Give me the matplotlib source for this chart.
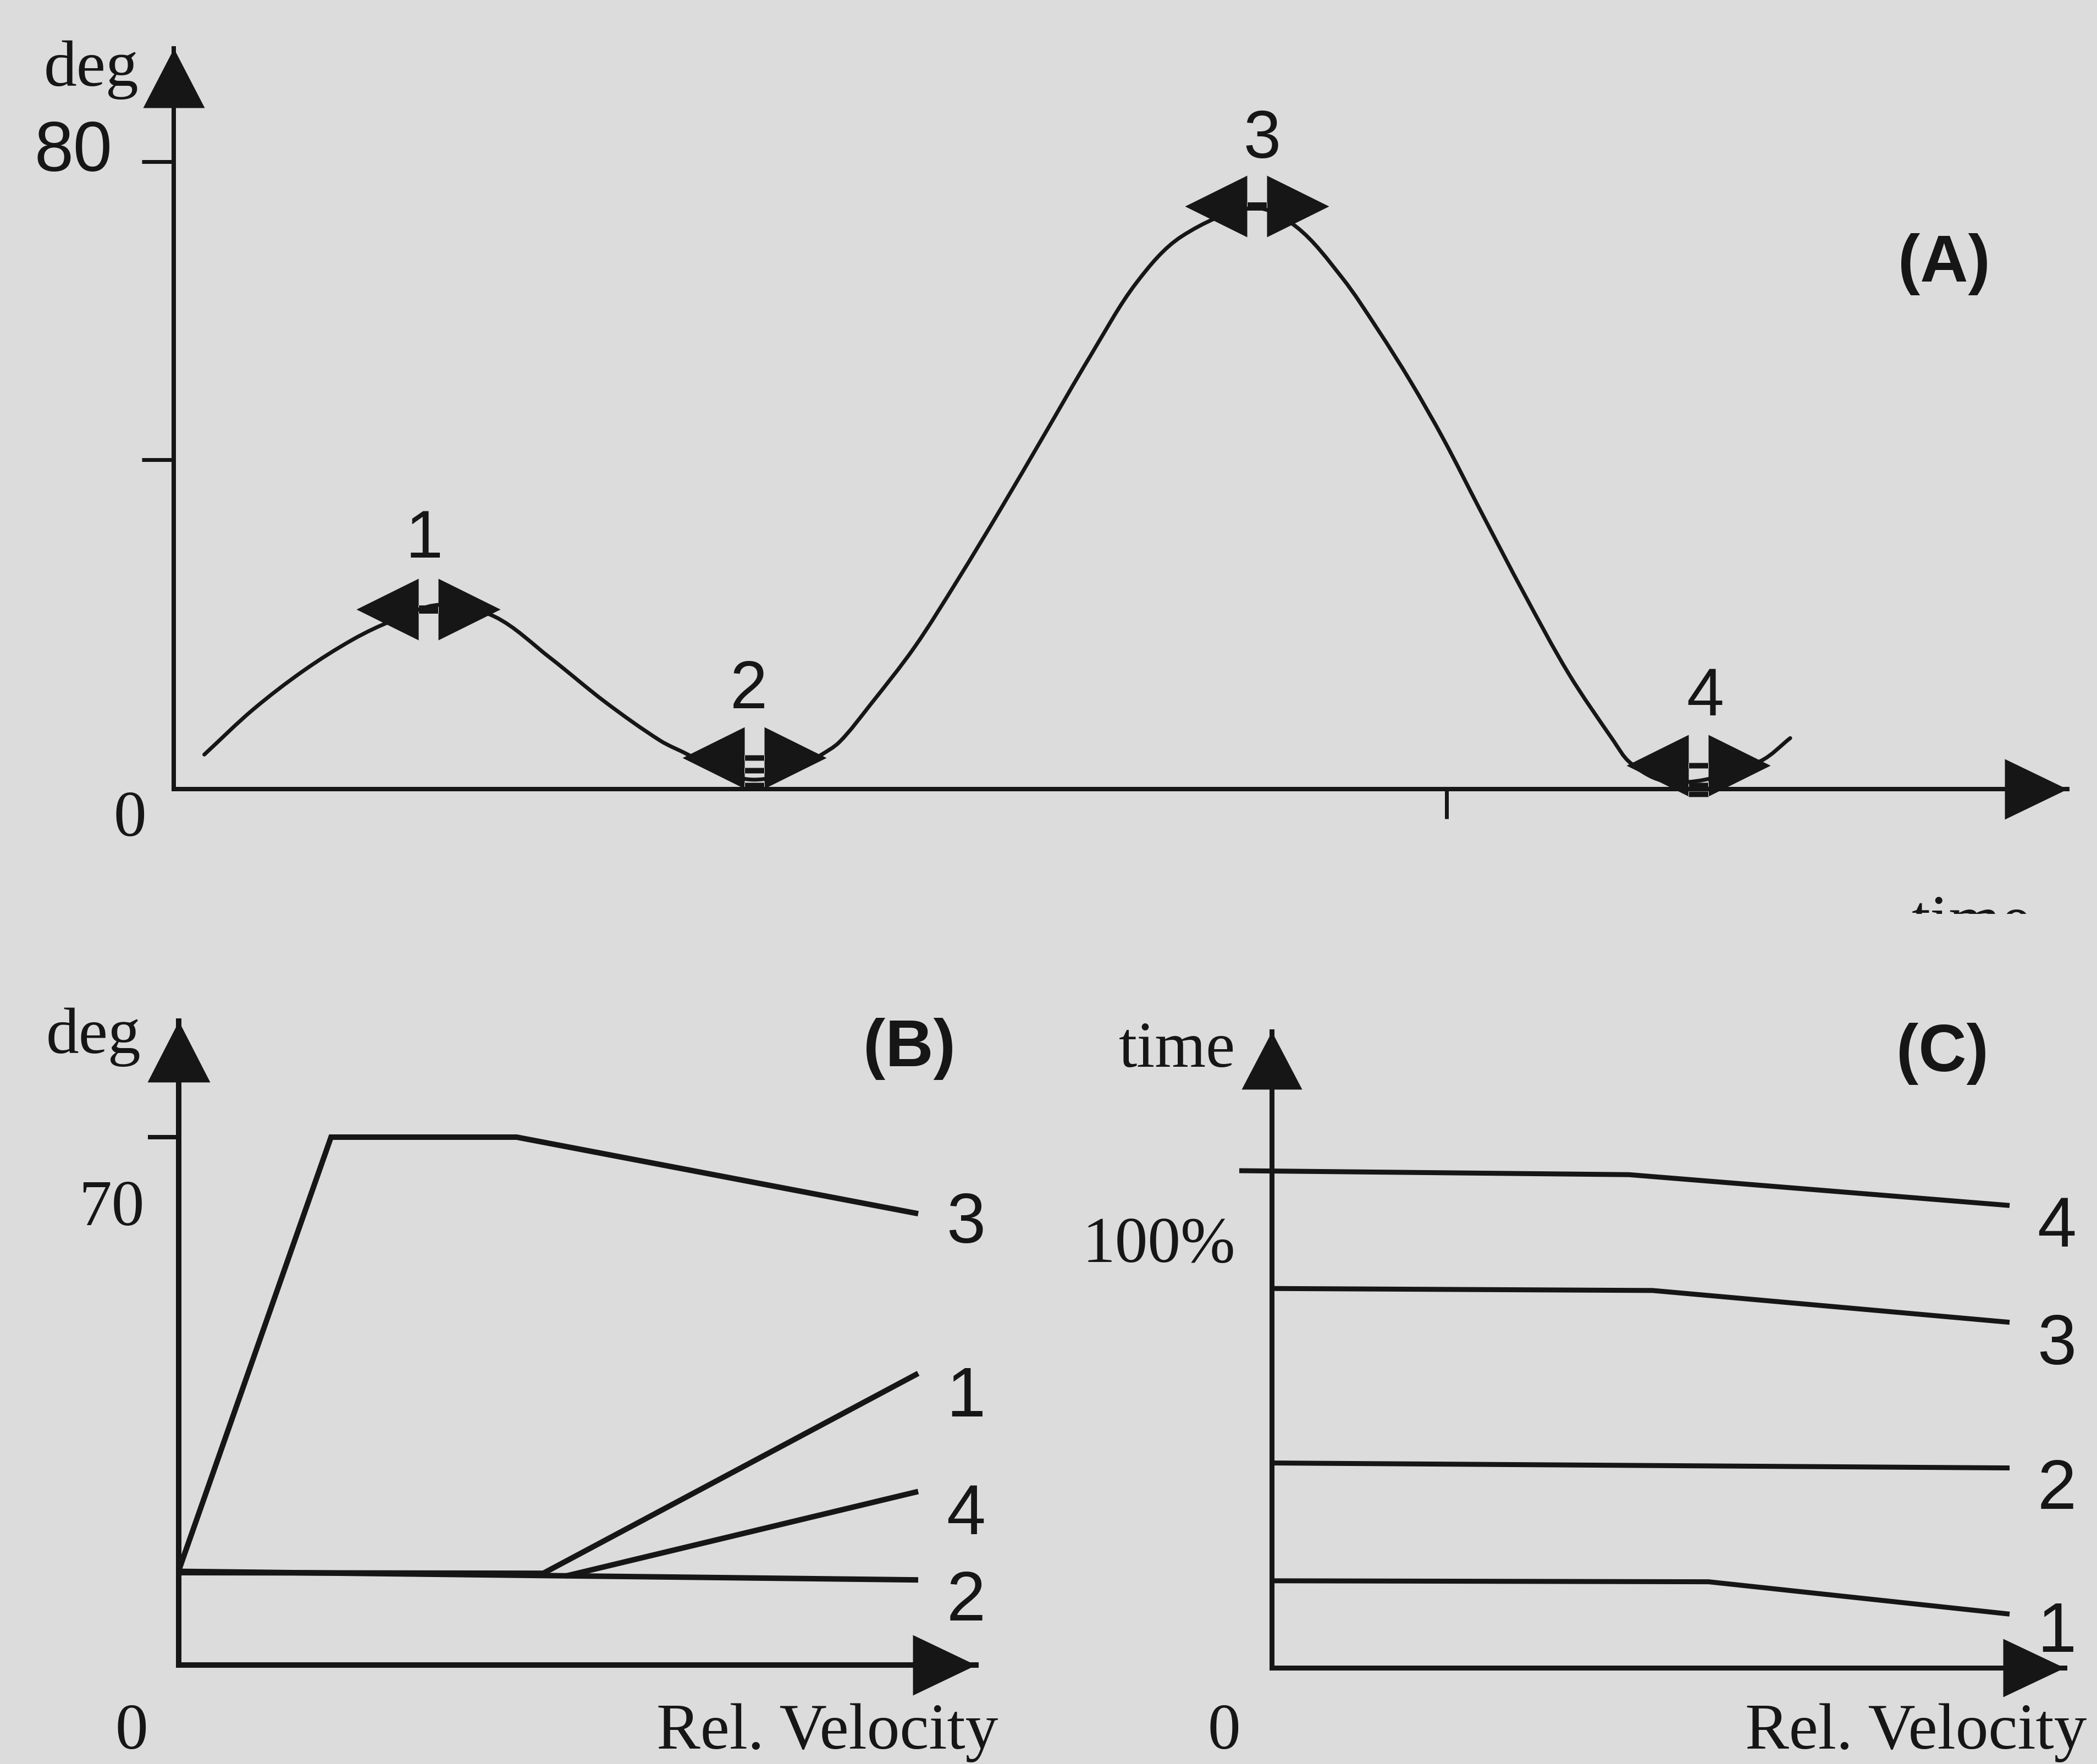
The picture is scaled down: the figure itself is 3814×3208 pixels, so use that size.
import matplotlib
matplotlib.use("Agg")
import numpy as np
import matplotlib.pyplot as plt
from matplotlib.path import Path
from matplotlib.patches import PathPatch
from matplotlib.markers import MarkerStyle
from matplotlib.transforms import Bbox, TransformedBbox

# ---------------- data ----------------
# (A) joint angle over time (time in units of the single x tick)
a_time = [0.024, 0.062, 0.102, 0.141, 0.172, 0.209, 0.252, 0.296, 0.339, 0.382,
          0.404, 0.429, 0.456, 0.486, 0.507, 0.523, 0.547, 0.582, 0.616, 0.650,
          0.684, 0.720, 0.756, 0.792, 0.848, 0.882, 0.918, 0.946, 0.972, 0.998,
          1.027, 1.061, 1.096, 1.131, 1.144, 1.169, 1.203, 1.247, 1.270]
a_deg = [4.4, 10.1, 15.1, 19.1, 21.5, 23.5, 22.0, 16.7, 11.1, 6.2,
         4.4, 2.2, 1.2, 2.2, 4.2, 6.0, 10.7, 18.1, 26.7, 35.8,
         45.2, 55.2, 64.5, 70.5, 74.1, 71.7, 65.2, 58.6, 51.9, 44.5,
         35.4, 24.9, 14.7, 6.2, 3.4, 1.1, 1.2, 3.6, 6.5]
a_marks = ["1", "2", "3", "4"]
a_mark_time = [0.200, 0.456, 0.851, 1.198]
a_mark_deg = [22.9, 4.0, 74.3, 3.0]
a_yticks = [42, 80]
a_xticks = [1.0]

# (B) angle vs relative velocity for reversal points 1-4
b_x = {"3": [0, 0.206, 0.457, 1.0], "1": [0, 0.493, 1.0],
       "4": [0.524, 1.0], "2": [0, 1.0]}
b_y = {"3": [14.3, 80, 80, 68.4], "1": [14.0, 13.9, 44.2],
       "4": [13.5, 26.3], "2": [14.2, 12.9]}
b_yticks = [80]

# (C) relative time vs relative velocity
c_x = {"4": [-0.044, 0.484, 1.0], "3": [0, 0.516, 1.0],
       "2": [0, 1.0], "1": [0, 0.592, 1.0]}
c_y = {"4": [100, 99.2, 93.0], "3": [76.3, 75.9, 69.5],
       "2": [41.2, 40.2], "1": [17.5, 17.3, 10.8]}

# ---------------- look ----------------
W, H = 3814, 3208
BG = "#dcdcdc"
INK = "#161616"
SERIF = "Liberation Serif"
SANS = "Liberation Sans"
PT = 0.72  # points per pixel at dpi 100

fig = plt.figure(figsize=(W / 100, H / 100), dpi=100, facecolor=BG)


def panel(ox, oy, tipx, tipy, xscale, yscale):
    # ox, oy = pixel of the data origin; tip = pixel of the arrow tips
    ax = fig.add_axes([ox / W, 1 - oy / H, (tipx - ox) / W, (oy - tipy) / H])
    ax.set_xlim(0, (tipx - ox) / xscale)
    ax.set_ylim(0, (oy - tipy) / yscale)
    ax.set_facecolor("none")
    for s in ax.spines.values():
        s.set_visible(False)
    ax.set_xticks([])
    ax.set_yticks([])
    return ax


def head(direction, length, half):
    if direction == "up":
        v = [(0, 0), (-half, -length), (half, -length), (0, 0)]
    else:
        v = [(0, 0), (-length, half), (-length, -half), (0, 0)]
    p = Path(v, [Path.MOVETO, Path.LINETO, Path.LINETO, Path.CLOSEPOLY])
    return MarkerStyle(p), 2 * max(length, half) * PT


def axis_arrows(ax, lw, xhead, yhead):
    xmax = ax.get_xlim()[1]
    ymax = ax.get_ylim()[1]
    ax.plot([0, xmax], [0, 0], color=INK, lw=lw * PT, clip_on=False,
            solid_capstyle="projecting")
    ax.plot([0, 0], [0, ymax], color=INK, lw=lw * PT, clip_on=False,
            solid_capstyle="projecting")
    m, ms = head("right", *xhead)
    ax.plot([xmax], [0], marker=m, ms=ms, color=INK, mew=0, clip_on=False)
    m, ms = head("up", *yhead)
    ax.plot([0], [ymax], marker=m, ms=ms, color=INK, mew=0, clip_on=False)


def double_arrow(rungs, thick):
    verts, codes = [], []

    def poly(pts):
        verts.extend(pts + [pts[0]])
        codes.extend([Path.MOVETO] + [Path.LINETO] * (len(pts) - 1) + [Path.CLOSEPOLY])

    poly([(-131, 0), (-18, 56), (-18, -56)])
    poly([(131, 0), (18, -56), (18, 56)])
    for r in rungs:
        poly([(-18, r - thick / 2), (18, r - thick / 2), (18, r + thick / 2), (-18, r + thick / 2)])
    return MarkerStyle(Path(verts, codes)), 2 * 131 * PT


def smooth_path(xs, ys, sx, sy):
    # chord-length Catmull-Rom bezier through the read points
    # (sx, sy = pixels per data unit, so the chords are measured on screen)
    p = np.column_stack([np.asarray(xs) * sx, np.asarray(ys) * sy])
    n = len(p)
    d = np.hypot(*np.diff(p, axis=0).T)
    tan = np.zeros_like(p)
    tan[0] = (p[1] - p[0]) / d[0]
    tan[-1] = (p[-1] - p[-2]) / d[-1]
    for i in range(1, n - 1):
        tan[i] = (p[i + 1] - p[i - 1]) / (d[i - 1] + d[i])
    verts = [p[0]]
    codes = [Path.MOVETO]
    for i in range(n - 1):
        verts += [p[i] + tan[i] * d[i] / 3, p[i + 1] - tan[i + 1] * d[i] / 3, p[i + 1]]
        codes += [Path.CURVE4] * 3
    verts = np.array(verts) / [sx, sy]
    return Path(verts, codes)


def label(px, py, s, size, family, weight="normal"):
    return fig.text(px / W, 1 - py / H, s, fontsize=size, family=family,
                    weight=weight, ha="center", va="baseline", color=INK)


# ---------------- (A) ----------------
axA = panel(316, 1435, 3760, 88, 2315, 14.26)
axA.add_patch(PathPatch(smooth_path(a_time, a_deg, 2315, 14.26), fill=False,
                        edgecolor=INK, lw=7 * PT, joinstyle="round",
                        capstyle="round", clip_on=False))
axis_arrows(axA, 8, (114, 55), (108, 56))
axA.set_yticks(a_yticks)
axA.set_xticks(a_xticks)
axA.tick_params(axis="y", direction="out", length=58 * PT, width=7 * PT,
                color=INK, labelleft=False)
axA.tick_params(axis="x", direction="out", length=54 * PT, width=7 * PT,
                color=INK, labelbottom=False)

rung_sets = [[0], [0, -23, -50], [0], [0, -36, -52]]
rung_thick = [15, 10, 15, 10]
for i in range(len(a_marks)):
    m, ms = double_arrow(rung_sets[i], rung_thick[i])
    axA.plot([a_mark_time[i]], [a_mark_deg[i]], marker=m, ms=ms, color=INK,
             mew=0, clip_on=False, zorder=5)

label(166, 156, "deg", 86, SERIF)
label(133, 311, "80", 92, SANS)
label(236, 1520, "0", 86, SERIF)
for s, (px, py) in zip(a_marks, [(772, 1014), (1362, 1288), (2295, 287), (3101, 1301)]):
    label(px, py, s, 88, SANS)
label(3536, 512, "(A)", 87, SANS, "bold")
t = label(3586, 1712, "time", 88, SERIF)
t.set_clip_box(TransformedBbox(Bbox([[0, 1 - 1662 / H], [1, 1]]), fig.transFigure))
t.set_clip_on(True)

# ---------------- (B) ----------------
axB = panel(325, 3028, 1775, 1857, 1345, 12.0)
for k in ["2", "1", "4", "3"]:
    axB.plot(b_x[k], b_y[k], color=INK, lw=10 * PT, solid_joinstyle="miter",
             solid_capstyle="butt", clip_on=False)
axis_arrows(axB, 10, (115, 55), (111, 57))
axB.set_yticks(b_yticks)
axB.tick_params(axis="y", direction="out", length=56 * PT, width=8 * PT,
                color=INK, labelleft=False)

label(170, 1915, "deg", 86, SERIF)
label(203, 2228, "70", 86, SERIF)
label(239, 3180, "0", 86, SERIF)
label(1505, 3180, "Rel. Velocity", 86, SERIF)
label(1654, 1939, "(B)", 87, SANS, "bold")
for s, py in zip(["3", "1", "4", "2"], [2260, 2576, 2790, 2947]):
    label(1757, py, s, 92, SANS)

# ---------------- (C) ----------------
axC = panel(2313, 3033, 3755, 1876, 1342, 9.04)
for k in ["4", "3", "2", "1"]:
    axC.plot(c_x[k], c_y[k], color=INK, lw=9 * PT, solid_joinstyle="miter",
             solid_capstyle="butt", clip_on=False)
axis_arrows(axC, 9, (112, 53), (105, 55))

label(2141, 1940, "time", 86, SERIF)
label(2108, 2295, "100%", 86, SERIF)
label(2226, 3180, "0", 86, SERIF)
label(3485, 3180, "Rel. Velocity", 86, SERIF)
label(3533, 1948, "(C)", 87, SANS, "bold")
for s, py in zip(["4", "3", "2", "1"], [2267, 2481, 2744, 3004]):
    label(3741, py, s, 92, SANS)

fig.savefig("out.png", dpi=100, facecolor=BG)
